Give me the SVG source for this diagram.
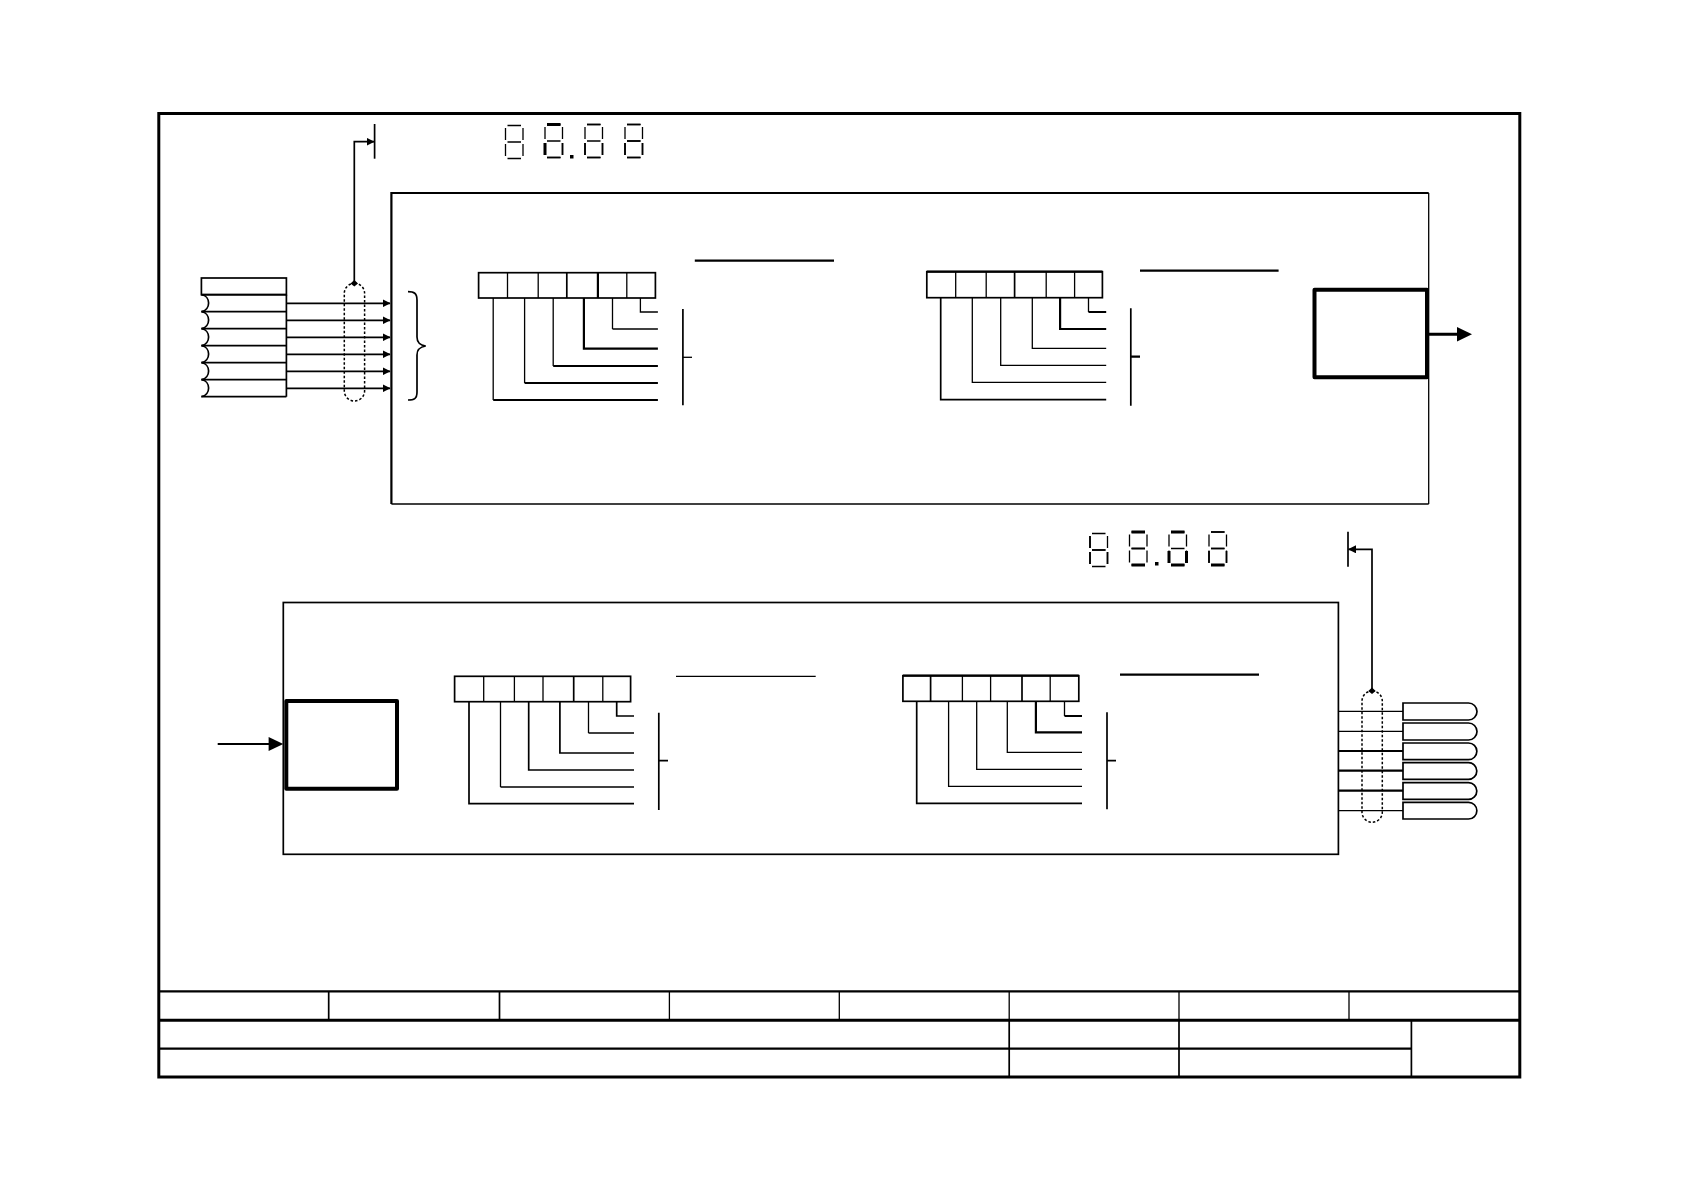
<svg xmlns="http://www.w3.org/2000/svg" width="1684" height="1190" viewBox="0 0 1684 1190">
<style>
path,rect{fill:none;stroke:#000;stroke-width:1.3}
.a{stroke-width:1.7}
.b{stroke-width:2.2}
.c{stroke-width:3}
.d{stroke-width:4;stroke-linejoin:round}
.f{fill:#000;stroke:none}
.dash{stroke-width:1.5;stroke-dasharray:2.5 2}
</style>
<defs>
<path id="seg" d="M2.5 .5H16M.5 3V15M18 3V15M2.5 17H16M.5 19V31M18 19V31M2.5 33.5H16"/>
<marker id="ah" markerUnits="userSpaceOnUse" markerWidth="8" markerHeight="8" refX="7.5" refY="4" orient="auto"><path class="f" d="M0 0L8 4L0 8Z"/></marker>
</defs>
<rect width="1684" height="1190" style="fill:#fff;stroke:none"/>

<g id="frame">
<rect class="c" x="158.8" y="113.5" width="1361" height="963.5"/>
<path class="b" d="M158.8 991.3H1519.7"/>
<path class="c" d="M158.8 1020.3H1519.7"/>
<path class="b" d="M158.8 1048.7H1411.4"/>
<path class="a" d="M328.7 991.3V1020.3M499.5 991.3V1020.3"/>
<path d="M669.4 991.3V1020.3M839.3 991.3V1020.3M1009.2 991.3V1020.3M1179 991.3V1020.3M1349 991.3V1020.3"/>
<path class="a" d="M1009.2 1020.3V1077M1179 1020.3V1077M1411.4 1020.3V1077"/>
</g>

<g id="display-top">
<use href="#seg" x="505" y="125"/>
<use href="#seg" x="544.5" y="124"/>
<path class="c" d="M547 124.5H560.5M545 143V155"/>
<path class="a" d="M547 157.5H560.5M562.5 143V155"/>
<rect class="f" x="570" y="155" width="3.5" height="3.5"/>
<use href="#seg" x="584.5" y="124"/>
<path class="a" d="M587 124.5H600.5M587 157.5H600.5M585 143V155M602.5 143V155"/>
<use href="#seg" x="624.5" y="124"/>
<path class="a" d="M627 124.5H640.5M627 141H640.5M627 157.5H640.5M625 143V155M642.5 143V155"/>
</g>

<g id="display-bottom">
<use href="#seg" x="1089.5" y="533"/>
<path class="a" d="M1090 536V548M1090 552V564M1107.5 552V564M1092 550H1105.5"/>
<use href="#seg" x="1129" y="531.5"/>
<path class="c" d="M1131.5 532H1145M1131.5 565H1145"/>
<path class="a" d="M1131.5 548.5H1145"/>
<rect class="f" x="1155" y="562" width="3.5" height="3.5"/>
<use href="#seg" x="1168.5" y="531.5"/>
<path class="c" d="M1171 532H1184.5M1171 565H1184.5M1169 551V563M1186.5 551V563"/>
<use href="#seg" x="1208.5" y="531.5"/>
<path class="a" d="M1211 532H1224.5M1211 548.5H1224.5M1209 551V563M1226.5 551V563"/>
<path class="c" d="M1211 565H1224.5"/>
</g>

<g id="module-top">
<path class="b" d="M391.4 504V193H1428.7"/>
<path d="M1428.7 193V504"/>
<path class="a" d="M391.4 504H1428.7"/>
</g>

<g id="module-bottom">
<rect class="a" x="283.3" y="602.5" width="1055.1" height="251.8"/>
</g>

<g id="input-stack">
<rect class="a" x="201.4" y="278" width="85" height="16.7"/>
<path class="a" d="M201.4 294.7H286.4M201.4 311.7H286.4M201.4 328.7H286.4M201.4 345.7H286.4M201.4 362.7H286.4M201.4 379.7H286.4M201.4 396.7H286.4M286.4 294.7V396.7"/>
<path class="a" d="M201.4 294.7C211 296 211 310 201.4 311.7C211 313 211 327 201.4 328.7C211 330 211 344 201.4 345.7C211 347 211 361 201.4 362.7C211 364 211 378 201.4 379.7C211 381 211 395 201.4 396.7"/>
</g>

<g id="output-stack">
<path class="a" d="M1403 703H1468.5A8.5 8.5 0 0 1 1468.5 720H1403Z"/>
<path class="a" d="M1403 723H1468.5A8.5 8.5 0 0 1 1468.5 740H1403Z"/>
<path class="a" d="M1403 743H1468.5A8.3 8.3 0 0 1 1468.5 759.7H1403Z"/>
<path class="a" d="M1403 762.7H1468.5A8.3 8.3 0 0 1 1468.5 779.3H1403Z"/>
<path class="a" d="M1403 782.7H1468.5A8.3 8.3 0 0 1 1468.5 799.3H1403Z"/>
<path class="a" d="M1403 802.3H1468.5A8.3 8.3 0 0 1 1468.5 819H1403Z"/>
</g>

<g id="table-1">
<rect class="a" x="478.6" y="272.7" width="176.8" height="25.3"/>
<path d="M507.5 272.7V298M538.2 272.7V298"/>
<path class="a" d="M566.8 272.7V298"/>
<path class="b" d="M597.9 272.7V298"/>
<path d="M626.8 272.7V298"/>
</g>
<g id="table-2">
<rect class="a" x="926.8" y="271.7" width="175.6" height="26"/>
<path class="b" d="M926.8 271.7H1102.4"/>
<path d="M955.7 271.7V297.7M986.2 271.7V297.7"/>
<path class="a" d="M1014.6 271.7V297.7"/>
<path d="M1046.2 271.7V297.7M1074.6 271.7V297.7"/>
</g>
<g id="table-3">
<rect class="a" x="454.6" y="676.3" width="176" height="25.4"/>
<path d="M483.7 676.3V701.7M514.4 676.3V701.7M543 676.3V701.7"/>
<path class="a" d="M573.7 676.3V701.7"/>
<path d="M602.8 676.3V701.7"/>
</g>
<g id="table-4">
<rect class="a" x="902.9" y="675.7" width="175.9" height="25.6"/>
<path class="b" d="M902.9 675.7H1078.8"/>
<path class="a" d="M930.6 675.7V701.3"/>
<path d="M962.4 675.7V701.3M990.6 675.7V701.3"/>
<path class="a" d="M1022 675.7V701.3"/>
<path d="M1050.2 675.7V701.3"/>
</g>

<g id="block-top"><rect class="d" x="1314.5" y="289.7" width="112.5" height="87.6"/></g>
<g id="block-bottom"><rect class="d" x="286.3" y="701" width="110.7" height="87.7"/></g>

<g id="bus-top"><rect class="dash" x="344.3" y="283.3" width="20.3" height="117.7" rx="10.15"/></g>
<g id="bus-bottom"><rect class="dash" x="1362" y="691" width="20.3" height="131.3" rx="10.15"/></g>

<g id="brace"><path class="a" d="M408 291.7C414 291.7 417 293 417 300V337C417 343 420 345 425.7 346C420 347 417 349 417 355V392C417 399 414 400 408 400"/></g>

<g id="connectors">
<path class="a" marker-end="url(#ah)" d="M286.4 303.3H390"/>
<path class="a" marker-end="url(#ah)" d="M286.4 320.3H390"/>
<path class="a" marker-end="url(#ah)" d="M286.4 337.3H390"/>
<path class="a" marker-end="url(#ah)" d="M286.4 354.3H390"/>
<path class="a" marker-end="url(#ah)" d="M286.4 371.3H390"/>
<path class="a" marker-end="url(#ah)" d="M286.4 388.3H390"/>
<path class="a" marker-end="url(#ah)" d="M354.3 283.3V141.7H374"/>
<path class="f" d="M354.3 280L358 283.5L354.3 286.5L350.5 283.5Z"/>
<path class="a" d="M374.6 124V158.7"/>
<path class="a" marker-end="url(#ah)" d="M1372 691V549.3H1348.5"/>
<path class="f" d="M1372 687.5L1375.7 691L1372 694L1368.3 691Z"/>
<path class="a" d="M1348 531.7V566.7"/>
<path d="M1338.4 711.3H1403M1338.4 731.3H1403M1338.4 810.7H1403"/>
<path class="b" d="M1338.4 751H1403M1338.4 770.7H1403M1338.4 790.7H1403"/>
<path class="c" d="M1427 334.3H1460"/>
<path class="f" d="M1457 327L1472 334.3L1457 341.6Z"/>
<path class="b" d="M217.7 744H270"/>
<path class="f" d="M268.6 737L283.3 744L268.6 751Z"/>

<path d="M640.4 298V312H657.9M612.5 298V329M553.2 298V366M524.6 298V383M493.2 298V400"/>
<path class="a" d="M612.5 329H657.9"/>
<path class="b" d="M583.9 298V348.7H657.9M553.2 366H657.9M524.6 383H657.9M493.2 400H657.9"/>
<path class="a" d="M682.9 309V405.3"/>
<path d="M682.9 357.3H692"/>
<path class="b" d="M694.8 260.7H834"/>

<path d="M1088.5 298V312M1032.3 298V348.3H1106.2M1000.7 298V365.3H1106.2M972.3 298V382.3H1106.2"/>
<path class="b" d="M1088.5 312H1106.2M1060.1 298V329H1106.2"/>
<path class="a" d="M940.7 298V399.7H1106.2M1130.8 308.3V405.7"/>
<path class="b" d="M1130.8 356.7H1140M1140 270.7H1278.6"/>

<path class="a" d="M616.7 701.7V716H634"/>
<path d="M588.5 701.7V733M500.5 701.7V787"/>
<path class="a" d="M588.5 733H634M559.9 701.7V753H634M528.7 701.7V770H634M500.5 787H634M469 701.7V803.7H634M658.8 712.7V810M658.8 760.7H668"/>
<path d="M676 676.3H815.7"/>

<path d="M1064.5 701.3V716M1007.3 701.3V752.3H1082M976.7 701.3V769.3H1082M948.6 701.3V786.3H1082"/>
<path class="b" d="M1064.5 716H1082M1035.9 701.3V732.3H1082"/>
<path class="a" d="M916.7 701.3V803.3H1082M1107 712.3V809.3M1107 760.7H1116"/>
<path class="b" d="M1120 674.7H1259"/>
</g>
</svg>
